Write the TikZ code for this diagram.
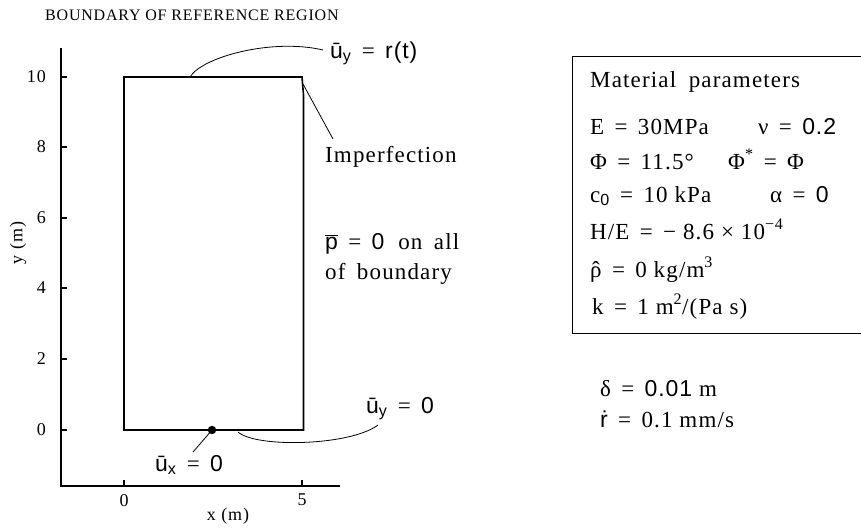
\documentclass[tikz,border=0pt]{standalone}
\usepackage{fontspec}
\setmainfont{Liberation Serif}[LetterSpace=5]
\newfontfamily\vf{Liberation Sans}[LetterSpace=4]
\newfontfamily\plainserif{Liberation Serif}
\newcommand{\eq}{\hspace{0.45em}=\hspace{0.45em}}
\newcommand{\rhohat}{{\plainserif\ooalign{ρ\cr\hidewidth ˆ\hidewidth\cr}}}
\usetikzlibrary{positioning}

\begin{document}
\begin{tikzpicture}[x=1pt, y=-1pt, every node/.style={font=\fontsize{23}{26}\selectfont, inner sep=0pt}]
  % Styles
  \tikzset{
    axis/.style={line width=1.5pt},
    region/.style={line width=1.6pt},
    tickmark/.style={line width=1.2pt},
    lead/.style={line width=0.8pt},
    ticklabel/.style={font=\fontsize{18}{20}\selectfont},
    label/.style={anchor=base west},
    param/.style={anchor=base west},
    frame/.style={draw, line width=1pt, minimum width=320pt, minimum height=277pt, anchor=north west}
  }
  \clip (0,0) rectangle (861,530);

  % Title
  \node[label, font=\fontsize{16}{18}\selectfont] (title) at (45,20) {BOUNDARY OF REFERENCE REGION};

  % Axes
  \coordinate (ytop) at (61,48);
  \coordinate (orig) at (61,486);
  \coordinate (xend) at (340,486);
  \draw[axis] (ytop) -- (orig) -- (xend);
  \foreach \v/\py in {0/430,2/359,4/288,6/218,8/147,10/77} {
    \draw[tickmark] (61,\py) -- ++(6,0);
    \node[ticklabel, anchor=east] at (46,\py) {\v};
  }
  \foreach \v/\px in {0/124,5/302} {
    \draw[tickmark] (\px,486) -- ++(0,-6);
    \node[ticklabel, anchor=north] at (\px,494) {\v};
  }
  \node[ticklabel] (xlab) at (228,516) {x (m)};
  \node[ticklabel, rotate=90] (ylab) at (18,243) {y (m)};

  % Reference region
  \coordinate (sw) at (124,430);
  \coordinate (nw) at (124,77);
  \coordinate (ne) at (302,77);
  \coordinate (kink) at (303.5,95);
  \coordinate (se) at (303.5,430);
  \draw[region] (sw) -- (nw) -- (ne) -- (kink) -- (se) -- cycle;

  % Boundary conditions
  \node[label] (uytop) at (330,58) {{\vf ū\textsubscript{y}}\eq{\vf r(t)}};
  \coordinate (uytopend) at (323,50);
  \draw[lead] (190,77) .. controls (202,57) and (272,38) .. (uytopend);

  \node[label] (imperf) at (325,162) {Imperfection};
  \coordinate (imperfend) at (333,139);
  \draw[lead] (303,84) -- (imperfend);

  \node[label] (pbar) at (325,249) {$\overline{\hbox{\vf p}}$\eq{\vf 0}\hspace{0.3em} on\hspace{0.2em} all};
  \node[label] (pbar2) at (325,279) {of\hspace{0.2em} boundary};

  \coordinate (fix) at (212,430);
  \fill (fix) circle (4.2);
  \node[label] (uxbot) at (155,471) {{\vf ū\textsubscript{x}}\eq{\vf 0}};
  \coordinate (uxend) at (193,452);
  \draw[lead] (fix) -- (uxend);

  \node[label] (uybot) at (366,413) {{\vf ū\textsubscript{y}}\eq{\vf 0}};
  \coordinate (uybotend) at (378,425);
  \draw[lead] (238,432) .. controls (256,448) and (350,446) .. (uybotend);

  % Material parameters
  \node[frame] (params) at (572,56) {};
  \node[param] (mat) at (590,87) {Material\hspace{0.25em} parameters};
  \node[param] (emod) at (590,134) {E\eq 30MPa};
  \node[param] (nu) at (758,134) {ν\eq{\vf 0.2}};
  \node[param] (phi) at (590,169) {Φ\eq 11.5°};
  \node[param] (phistar) at (728,169) {Φ\textsuperscript{*}\eq Φ};
  \node[param] (coh) at (590,202) {c\textsubscript{\vf 0}\eq 10 kPa};
  \node[param] (alpha) at (770,202) {α\eq{\vf 0}};
  \node[param] (hard) at (590,239) {H/E\eq − 8.6 × 10\textsuperscript{−4}};
  \node[param] (rho) at (590,277) {\rhohat\eq 0 kg/m\textsuperscript{3}};
  \node[param] (perm) at (592,314) {k\eq 1 m\textsuperscript{2}/(Pa s)};

  % Loading
  \node[param] (delta) at (600,396) {δ\eq{\vf 0.01} m};
  \node[param] (rate) at (600,427) {{\vf ṙ}\eq 0.1 mm/s};
\end{tikzpicture}
\end{document}
